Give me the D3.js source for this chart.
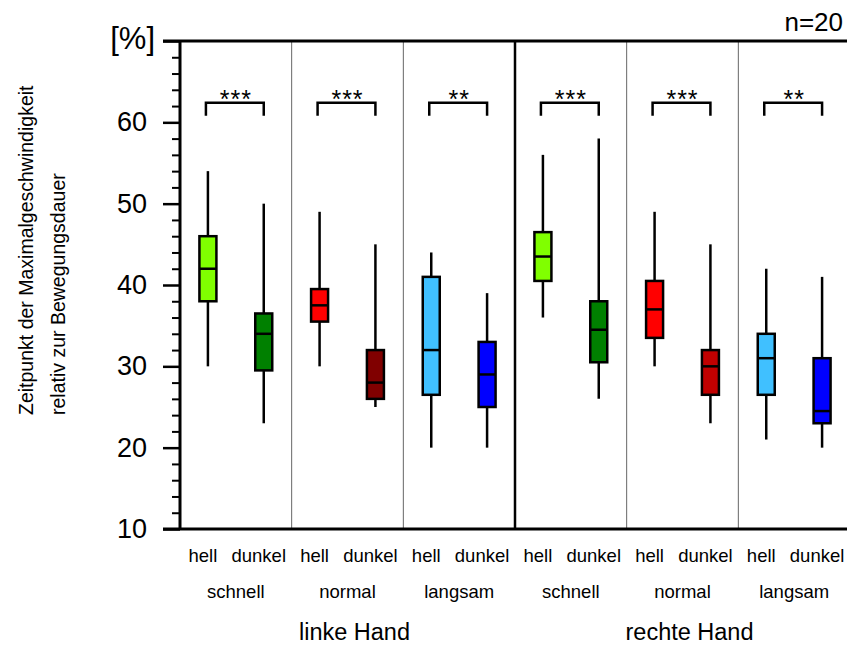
<!DOCTYPE html>
<html>
<head>
<meta charset="utf-8">
<script src="https://cdn.jsdelivr.net/npm/d3@7"></script>
<style>
  html, body { margin: 0; padding: 0; background: #fff; }
  svg { display: block; font-family: "Liberation Sans", Arial, Helvetica, sans-serif; }
</style>
</head>
<body>
<svg id="chart" width="847" height="648"></svg>
<script>
// ---- data ----
const hands = ["linke Hand", "rechte Hand"];
const speeds = ["schnell", "normal", "langsam", "schnell", "normal", "langsam"];
const conditions = ["hell", "dunkel", "hell", "dunkel", "hell", "dunkel", "hell", "dunkel", "hell", "dunkel", "hell", "dunkel"];
const whiskerLow  = [30, 23,   30,   25, 20,   20, 36,   26,   30,   23, 21,   20];
const q1          = [38, 29.5, 35.5, 26, 26.5, 25, 40.5, 30.5, 33.5, 26.5, 26.5, 23];
const median      = [42, 34,   37.5, 28, 32,   29, 43.5, 34.5, 37,   30, 31,   24.5];
const q3          = [46, 36.5, 39.5, 32, 41,   33, 46.5, 38,   40.5, 32, 34,   31];
const whiskerHigh = [54, 50,   49,   45, 44,   39, 56,   58,   49,   45, 42,   41];
const boxColors = ["#80ff00", "#008000", "#ff0000", "#800000", "#40c0ff", "#0000ff",
                   "#80ff00", "#008000", "#ff0000", "#c00000", "#40c0ff", "#0000ff"];
const significance = ["***", "***", "**", "***", "***", "**"];
const bracketLevel = 62.4;
const majorTicks = [10, 20, 30, 40, 50, 60, 70];
const minorTicks = d3.range(10, 70.1, 2).filter(v => v % 10 !== 0);
const tickLabels = ["10", "20", "30", "40", "50", "60", "[%]"];

// ---- layout ----
const svg = d3.select("#chart");
const x = d3.scaleBand().domain(d3.range(12)).range([180, 850]);
const y = d3.scaleLinear().domain([10, 70]).range([529, 41]);
const bw = x.bandwidth();
const cx = i => x(i) + bw / 2;
const boxW = 17;

// separators
const sepIdx = [2, 4, 6, 8, 10];
svg.selectAll("line.sep").data(sepIdx).join("line")
  .attr("x1", d => x(d)).attr("x2", d => x(d))
  .attr("y1", y(70)).attr("y2", y(10))
  .attr("stroke", d => d === 6 ? "#000" : "#666")
  .attr("stroke-width", d => d === 6 ? 2.5 : 1);

// y axis ticks
const yAxisMajor = d3.axisLeft(y).tickValues(majorTicks)
  .tickFormat((d, i) => tickLabels[i]).tickSize(17).tickPadding(16);
const gMajor = svg.append("g").attr("transform", "translate(180,0)").call(yAxisMajor);
gMajor.select(".domain").remove();
gMajor.selectAll(".tick line").attr("stroke", "#000").attr("stroke-width", 2.5);
gMajor.selectAll(".tick text").attr("font-size", 27).attr("fill", "#000")
  .attr("font-family", "Liberation Sans, Arial, sans-serif");
gMajor.selectAll(".tick").filter(d => d === 70).select("text")
  .attr("font-size", 31).attr("dy", "0.25em").attr("x", -25);

const yAxisMinor = d3.axisLeft(y).tickValues(minorTicks).tickFormat("").tickSize(8);
const gMinor = svg.append("g").attr("transform", "translate(180,0)").call(yAxisMinor);
gMinor.select(".domain").remove();
gMinor.selectAll(".tick line").attr("stroke", "#000").attr("stroke-width", 2);

// frame lines
svg.append("line").attr("x1", 180).attr("x2", 180).attr("y1", y(70)).attr("y2", y(10))
  .attr("stroke", "#000").attr("stroke-width", 3);
svg.append("line").attr("x1", 163).attr("x2", 847).attr("y1", y(70)).attr("y2", y(70))
  .attr("stroke", "#000").attr("stroke-width", 3);
svg.append("line").attr("x1", 163).attr("x2", 847).attr("y1", y(10)).attr("y2", y(10))
  .attr("stroke", "#000").attr("stroke-width", 3);

// boxes
const idx = d3.range(12);
const g = svg.append("g");
g.selectAll("line.whisker").data(idx).join("line")
  .attr("x1", cx).attr("x2", cx)
  .attr("y1", i => y(whiskerHigh[i])).attr("y2", i => y(whiskerLow[i]))
  .attr("stroke", "#000").attr("stroke-width", 2.5);
g.selectAll("rect.box").data(idx).join("rect")
  .attr("x", i => cx(i) - boxW / 2).attr("width", boxW)
  .attr("y", i => y(q3[i])).attr("height", i => y(q1[i]) - y(q3[i]))
  .attr("fill", i => boxColors[i]).attr("stroke", "#000").attr("stroke-width", 2.5);
g.selectAll("line.median").data(idx).join("line")
  .attr("x1", i => cx(i) - boxW / 2).attr("x2", i => cx(i) + boxW / 2)
  .attr("y1", i => y(median[i])).attr("y2", i => y(median[i]))
  .attr("stroke", "#000").attr("stroke-width", 2.5);

// significance brackets
const pairs = d3.range(6);
svg.selectAll("path.bracket").data(pairs).join("path")
  .attr("d", p => {
    const x1 = cx(2 * p) - 2, x2 = cx(2 * p + 1), yy = y(bracketLevel);
    return `M${x1},${yy + 13}V${yy}H${x2}V${yy + 13}`;
  })
  .attr("fill", "none").attr("stroke", "#000").attr("stroke-width", 2.5);
svg.selectAll("text.stars").data(pairs).join("text")
  .attr("x", p => (cx(2 * p) + cx(2 * p + 1)) / 2)
  .attr("y", y(bracketLevel) + 5)
  .attr("text-anchor", "middle").attr("font-size", 25).attr("letter-spacing", 1)
  .text(p => significance[p]);

// category labels
svg.selectAll("text.cond").data(idx).join("text")
  .attr("x", i => cx(i) - 5)
  .attr("y", 562).attr("text-anchor", "middle").attr("font-size", 18.5)
  .text(i => conditions[i]);
svg.selectAll("text.speed").data(pairs).join("text")
  .attr("x", p => x(2 * p + 1)).attr("y", 598)
  .attr("text-anchor", "middle").attr("font-size", 18.5)
  .text(p => speeds[p]);
svg.selectAll("text.hand").data([0, 1]).join("text")
  .attr("x", h => x(6 * h + 3) + 7).attr("y", 640)
  .attr("text-anchor", "middle").attr("font-size", 23.5)
  .text(h => hands[h]);

// y title
const title = ["Zeitpunkt der Maximalgeschwindigkeit", "relativ zur Bewegungsdauer"];
svg.selectAll("text.ytitle").data(title).join("text")
  .attr("transform", (d, i) => `translate(${33 + i * 32},415) rotate(-90)`)
  .attr("text-anchor", "start").attr("font-size", 19.5)
  .text(d => d);

// n=20
svg.append("text").attr("x", 843).attr("y", 31).attr("text-anchor", "end")
  .attr("font-size", 26).text("n=20");
</script>
</body>
</html>
